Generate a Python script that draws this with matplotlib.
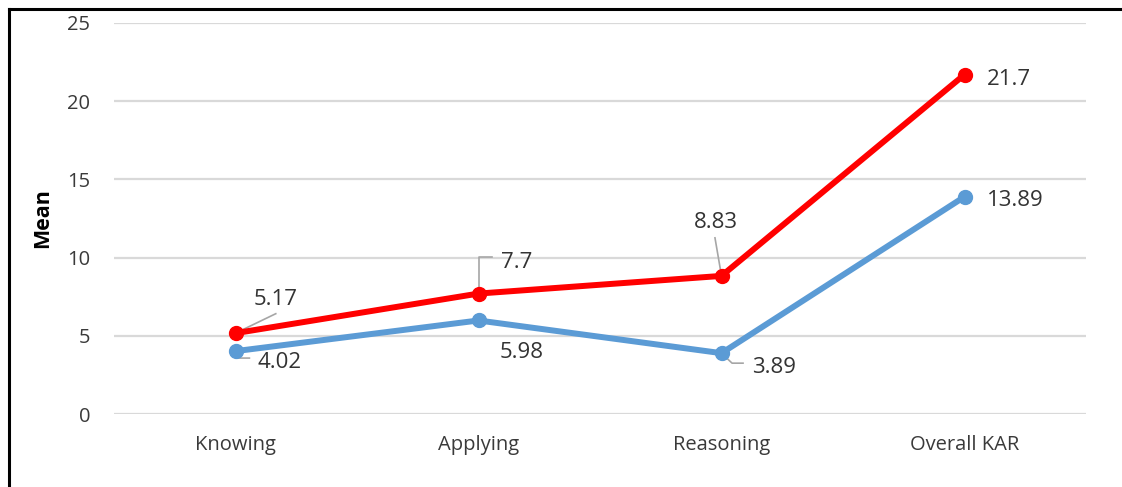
import matplotlib
matplotlib.use("Agg")
import matplotlib.pyplot as plt
import matplotlib.transforms as mtransforms
from matplotlib.lines import Line2D

# ── Data ──────────────────────────────────────────────────────────────────────

categories = ["Knowing", "Applying", "Reasoning", "Overall KAR"]
red_values = [5.17, 7.7, 8.83, 21.7]
blue_values = [4.02, 5.98, 3.89, 13.89]
y_ticks = [0, 5, 10, 15, 20, 25]

RED = "#FF0000"
BLUE = "#5B9BD5"
GRID = "#D9D9D9"
LEADER = "#A6A6A6"
TEXT = "#333333"

plt.rcParams["font.family"] = ["Open Sans", "DejaVu Sans"]

fig = plt.figure(figsize=(11.22, 4.87), dpi=100)
ax = fig.add_axes([114 / 1122, 1 - 414 / 487, 972 / 1122, 391 / 487])

x = list(range(len(categories)))
ax.plot(x, blue_values, color=BLUE, lw=4.3, marker="o", ms=10,
        solid_capstyle="round", zorder=3)
ax.plot(x, red_values, color=RED, lw=4.3, marker="o", ms=10,
        solid_capstyle="round", zorder=4)

ax.set_xlim(-0.5, len(categories) - 0.5)
ax.set_ylim(0, 25)
ax.set_yticks(y_ticks)
ax.set_xticks(x)
ax.set_xticklabels(categories)
ax.yaxis.grid(True, color=GRID, lw=1.6)
ax.set_axisbelow(True)
for s in ax.spines.values():
    s.set_visible(False)
ax.tick_params(axis="both", length=0, labelsize=14.5, labelcolor="#3A3A3A")
ax.tick_params(axis="y", pad=17)
ax.tick_params(axis="x", pad=15)
ax.set_ylabel("Mean", fontsize=15.5, color="black", fontweight="bold",
              labelpad=10)

# ── Data labels (offsets in points from the data point) ──────────────────────

labels = [
    # (x, value, text offset, ha, leader path)
    (0, red_values[0], (29, 26), "center", [(0, 0), (29, 14)]),
    (0, blue_values[0], (16, -6.5), "left", [(0, 0), (1.4, -5), (10, -5)]),
    (1, red_values[1], (16, 24), "left", [(0, 0), (0, 26), (9.4, 26)]),
    (1, blue_values[1], (15, -21), "left", None),
    (2, red_values[2], (-4, 40), "center", [(0, 0), (-4.7, 27.4)]),
    (2, blue_values[2], (22, -8.6), "left", [(0, 0), (7.6, -7.2), (15.5, -7.2)]),
    (3, red_values[3], (16, -1.5), "left", None),
    (3, blue_values[3], (16, -1), "left", None),
]

pt = mtransforms.Affine2D().scale(fig.dpi / 72.0)
for xi, v, (dx, dy), ha, path in labels:
    ax.annotate(f"{v:g}", xy=(xi, v), xytext=(dx, dy),
                textcoords="offset points", ha=ha, va="center_baseline",
                fontsize=16, color=TEXT, zorder=5)
    if path:
        tr = pt + mtransforms.ScaledTranslation(xi, v, ax.transData)
        xs = [p[0] for p in path]
        ys = [p[1] for p in path]
        ax.add_line(Line2D(xs, ys, color=LEADER, lw=1.2, transform=tr,
                           zorder=2.5))

# frame (top and left edges of the cropped chart border)
fig.add_artist(Line2D([8.5 / 1122, 1], [1 - 9 / 487, 1 - 9 / 487],
                      color="black", lw=2.2, transform=fig.transFigure))
fig.add_artist(Line2D([9 / 1122, 9 / 1122], [0, 1 - 9 / 487],
                      color="black", lw=2.2, transform=fig.transFigure))

fig.savefig("out.png", dpi=100)
